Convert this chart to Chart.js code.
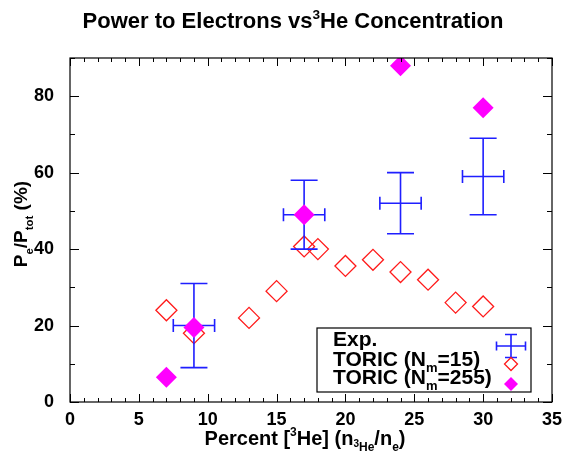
<!DOCTYPE html>
<html>
<head>
<meta charset="utf-8">
<script src="https://cdn.jsdelivr.net/npm/chart.js@4/dist/chart.umd.min.js"></script>
<style>
  html, body { margin: 0; padding: 0; background: #fff; }
  #wrap { width: 566px; height: 453px; }
</style>
</head>
<body>
<div id="wrap"><canvas id="myChart" width="566" height="453"></canvas></div>
<script>
// experiment: percent 3He, Pe/Ptot and error ranges
const expX = [9, 17, 24, 30];
const expY = [20, 49, 52, 59];
const expYLow = [9, 40, 44, 49];
const expYHigh = [31, 58, 60, 69];
const expXLow = [7.5, 15.5, 22.5, 28.5];
const expXHigh = [10.5, 18.5, 25.5, 31.5];

// TORIC, Nm = 15
const toric15X = [7, 9, 13, 15, 17, 18, 20, 22, 24, 26, 28, 30];
const toric15Y = [24, 18, 22, 29, 40.7, 40, 35.6, 37.2, 34, 32, 26, 25];

// TORIC, Nm = 255
const toric255X = [7, 9, 17, 24, 30];
const toric255Y = [6.5, 19.5, 49, 88, 77];

const xTicks = [0, 5, 10, 15, 20, 25, 30, 35];
const yTicks = [0, 20, 40, 60, 80];

const BLUE = "#1f1fff";
const RED = "#ff1a1a";
const MAG = "#ff00ff";

function pts(xs, ys) {
  return xs.map(function (x, i) { return { x: x, y: ys[i] }; });
}
function font(size) {
  return "bold " + size + "px 'Liberation Sans', Arial, sans-serif";
}
// parts: [text, scale, dy]  (dy as fraction of base size, + is down)
function richWidth(ctx, parts, size) {
  var w = 0;
  parts.forEach(function (p) { ctx.font = font(size * p[1]); w += ctx.measureText(p[0]).width; });
  return w;
}
function drawRich(ctx, parts, x, y, size, align) {
  var w = richWidth(ctx, parts, size);
  var cx = align === "center" ? x - w / 2 : (align === "right" ? x - w : x);
  ctx.textAlign = "left";
  ctx.textBaseline = "alphabetic";
  parts.forEach(function (p) {
    ctx.font = font(size * p[1]);
    ctx.fillText(p[0], cx, y + p[2] * size);
    cx += ctx.measureText(p[0]).width;
  });
}
function diamond(ctx, x, y, r, fill, stroke) {
  ctx.beginPath();
  ctx.moveTo(x, y - r); ctx.lineTo(x + r, y); ctx.lineTo(x, y + r); ctx.lineTo(x - r, y);
  ctx.closePath();
  if (fill) { ctx.fillStyle = fill; ctx.fill(); }
  if (stroke) { ctx.strokeStyle = stroke; ctx.lineWidth = 1.3; ctx.stroke(); }
}
function cross(ctx, x, y, x0, x1, y0, y1, capW, capH) {
  ctx.beginPath();
  ctx.moveTo(x, y0); ctx.lineTo(x, y1);
  ctx.moveTo(x - capW, y0); ctx.lineTo(x + capW, y0);
  ctx.moveTo(x - capW, y1); ctx.lineTo(x + capW, y1);
  ctx.moveTo(x0, y); ctx.lineTo(x1, y);
  ctx.moveTo(x0, y - capH); ctx.lineTo(x0, y + capH);
  ctx.moveTo(x1, y - capH); ctx.lineTo(x1, y + capH);
  ctx.stroke();
}

const decor = {
  id: "decor",
  afterDatasetDraw: function (chart, args) {
    if (chart.data.datasets[args.index].label !== "Exp.") return;
    const ctx = chart.ctx, xs = chart.scales.x, ys = chart.scales.y;
    ctx.save();
    ctx.strokeStyle = BLUE;
    ctx.lineWidth = 1.6;
    expX.forEach(function (v, i) {
      cross(ctx, xs.getPixelForValue(v), ys.getPixelForValue(expY[i]),
        xs.getPixelForValue(expXLow[i]), xs.getPixelForValue(expXHigh[i]),
        ys.getPixelForValue(expYHigh[i]), ys.getPixelForValue(expYLow[i]), 13.5, 6.5);
    });
    ctx.restore();
  },
  afterDraw: function (chart) {
    const ctx = chart.ctx, a = chart.chartArea, xs = chart.scales.x, ys = chart.scales.y;
    ctx.save();
    // frame
    ctx.strokeStyle = "#000";
    ctx.lineWidth = 1.2;
    ctx.strokeRect(a.left, a.top, a.right - a.left, a.bottom - a.top);
    // inward ticks, all four sides
    ctx.lineWidth = 1;
    ctx.beginPath();
    for (let v = 0; v <= 35; v++) {
      const px = Math.round(xs.getPixelForValue(v)) + 0.5;
      const len = v % 5 === 0 ? 8 : 4;
      ctx.moveTo(px, a.bottom); ctx.lineTo(px, a.bottom - len);
      ctx.moveTo(px, a.top); ctx.lineTo(px, a.top + len);
    }
    for (let v = 0; v <= 90; v += 10) {
      const py = Math.round(ys.getPixelForValue(v)) + 0.5;
      const len = v % 20 === 0 ? 9 : 5;
      ctx.moveTo(a.left, py); ctx.lineTo(a.left + len, py);
      ctx.moveTo(a.right, py); ctx.lineTo(a.right - len, py);
    }
    ctx.stroke();

    ctx.fillStyle = "#000";
    // title
    drawRich(ctx, [["Power to Electrons vs", 1, 0], ["3", 0.62, -0.42], ["He Concentration", 1, 0]], 293, 28, 22, "center");
    // x title
    drawRich(ctx, [["Percent [", 1, 0], ["3", 0.6, -0.45], ["He] (n", 1, 0], ["3", 0.5, 0.1],
      ["He", 0.6, 0.32], ["/n", 1, 0], ["e", 0.6, 0.3], [")", 1, 0]], 305, 445, 20, "center");
    // y title
    ctx.save();
    ctx.translate(27, 224);
    ctx.rotate(-Math.PI / 2);
    drawRich(ctx, [["P", 1, 0], ["e", 0.6, 0.3], ["/P", 1, 0], ["tot", 0.6, 0.3], [" (%)", 1, 0]], 0, 0, 19, "center");
    ctx.restore();

    // legend box
    const bx1 = a.right - 21, by1 = a.bottom - 10, bx0 = bx1 - 214, by0 = by1 - 64;
    ctx.lineWidth = 1.2;
    ctx.strokeStyle = "#000";
    ctx.strokeRect(bx0, by0, bx1 - bx0, by1 - by0);
    ctx.fillStyle = "#000";
    drawRich(ctx, [["Exp.", 1, 0]], bx0 + 16, by0 + 18, 21, "left");
    drawRich(ctx, [["TORIC (N", 1, 0], ["m", 0.62, 0.3], ["=15)", 1, 0]], bx0 + 16, by0 + 37.5, 21, "left");
    drawRich(ctx, [["TORIC (N", 1, 0], ["m", 0.62, 0.3], ["=255)", 1, 0]], bx0 + 16, by0 + 56, 21, "left");
    const sx = bx1 - 20;
    ctx.strokeStyle = BLUE;
    ctx.lineWidth = 1.6;
    cross(ctx, sx, by0 + 18, sx - 14.5, sx + 14.5, by0 + 6.5, by0 + 29.5, 6, 4.5);
    diamond(ctx, sx, by0 + 36, 6.5, null, RED);
    diamond(ctx, sx, by0 + 56, 7, MAG, null);
    ctx.restore();
  }
};

new Chart("myChart", {
  type: "scatter",
  data: {
    datasets: [{
      label: "TORIC (Nm=255)",
      data: pts(toric255X, toric255Y),
      pointStyle: "rectRot",
      pointRadius: 10.5,
      backgroundColor: MAG,
      borderColor: MAG,
      borderWidth: 0,
      order: 0
    }, {
      label: "Exp.",
      data: pts(expX, expY),
      pointRadius: 0,
      order: 1
    }, {
      label: "TORIC (Nm=15)",
      data: pts(toric15X, toric15Y),
      pointStyle: "rectRot",
      pointRadius: 10.5,
      backgroundColor: "rgba(0,0,0,0)",
      borderColor: RED,
      borderWidth: 1.3,
      order: 2
    }]
  },
  options: {
    responsive: false,
    animation: false,
    layout: { padding: { left: 0, right: 14, top: 58, bottom: 0 } },
    plugins: {
      legend: { display: false },
      title: { display: false },
      tooltip: { enabled: false }
    },
    scales: {
      x: {
        type: "linear",
        min: 0, max: 35,
        afterFit: function (s) { s.height = 51; },
        afterBuildTicks: function (s) { s.ticks = xTicks.map(function (v) { return { value: v }; }); },
        grid: { display: false },
        border: { display: false },
        ticks: { color: "#000", font: { family: "'Liberation Sans', Arial, sans-serif", size: 18, weight: "bold" }, padding: -1 }
      },
      y: {
        type: "linear",
        min: 0, max: 90,
        afterFit: function (s) { s.width = 70; },
        afterBuildTicks: function (s) { s.ticks = yTicks.map(function (v) { return { value: v }; }); },
        grid: { display: false },
        border: { display: false },
        ticks: { color: "#000", font: { family: "'Liberation Sans', Arial, sans-serif", size: 18, weight: "bold" }, padding: 8 }
      }
    }
  },
  plugins: [decor]
});
</script>
</body>
</html>
